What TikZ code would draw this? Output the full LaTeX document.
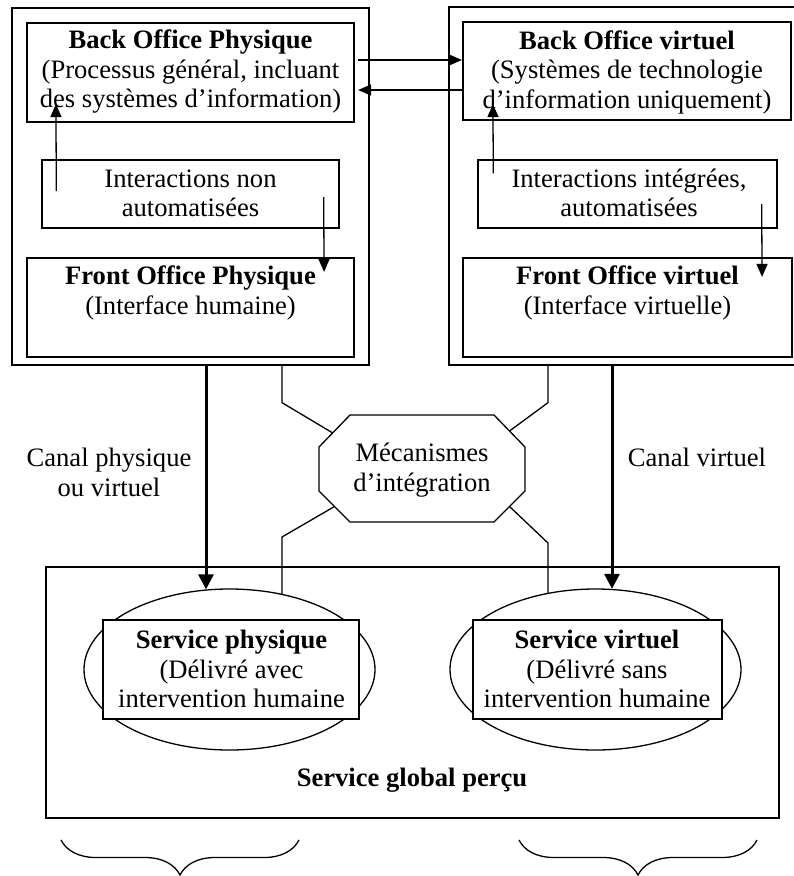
\documentclass[tikz,border=0pt]{standalone}
\usepackage{fontspec}
\setmainfont{Liberation Serif}
\usetikzlibrary{arrows.meta,calc,shapes.geometric,decorations.pathreplacing}
\tikzset{
  txt/.style={font=\fontsize{26.6pt}{29.5pt}\selectfont, align=center, inner sep=0pt},
  outerbox/.style={draw, line width=1.3pt, inner sep=0pt},
  thickbox/.style={draw, line width=2.2pt, inner sep=0pt},
  thinbox/.style={draw, line width=1.3pt, inner sep=0pt},
  servbox/.style={draw, fill=white, line width=1.6pt, inner sep=0pt},
  ell/.style={draw, ellipse, line width=1.3pt, inner sep=0pt, minimum width=291pt, minimum height=161pt},
  arr/.style={line width=1.3pt, -{Triangle[length=13pt,width=11pt]}},
  bigarr/.style={line width=3pt, -{Triangle[length=15pt,width=15pt]}},
  conn/.style={line width=1.3pt},
  brc/.style={line width=1.3pt, decorate, decoration={brace, amplitude=35pt, mirror, aspect=0.5}}
}
\begin{document}
\begin{tikzpicture}[x=1pt,y=-1pt]
\useasboundingbox (0,0) rectangle (794,876);
\clip (0,0) rectangle (794,876);
% outer containers
\node[outerbox, minimum width=357pt, minimum height=357pt] (lo) at (190.5,186.5) {};
\node[outerbox, minimum width=356pt, minimum height=358pt] (ro) at (627,186) {};
% left column
\node[thickbox, minimum width=327pt, minimum height=99pt] (bop) at (190.5,72.5) {};
\node[txt] (bopt) at (190.5,72) {\textbf{Back Office Physique}\\(Processus général, incluant\\des systèmes d’information)};
\node[thinbox, minimum width=297pt, minimum height=68pt] (inl) at (190.5,194) {};
\node[txt] (inlt) at (190.5,193.5) {Interactions non\\automatisées};
\node[thickbox, minimum width=327pt, minimum height=99pt] (fop) at (190.5,307.5) {};
\node[txt] (fopt) at (190.5,293) {\textbf{Front Office Physique}\\(Interface humaine)};
% right column
\node[thickbox, minimum width=328pt, minimum height=98pt] (bov) at (627,71) {};
\node[txt] (bovt) at (627,72) {\textbf{Back Office virtuel}\\(Systèmes de technologie\\d’information uniquement)};
\node[thinbox, minimum width=299pt, minimum height=68pt] (inv) at (627.5,194) {};
\node[txt] (invt) at (629,193) {Interactions intégrées,\\automatisées};
\node[thickbox, minimum width=329pt, minimum height=99pt] (fov) at (627.5,307.5) {};
\node[txt] (fovt) at (627.5,293) {\textbf{Front Office virtuel}\\(Interface virtuelle)};
% arrows between back offices
\draw[arr] ($(bop.east)+(3,-12.5)$) -- ($(bov.west)+(0,-11)$);
\draw[arr] ($(bov.west)+(0,19)$) -- ($(bop.east)+(3,17.5)$);
% inner arrows
\draw[arr] ($(inl.west)+(15,-3)$) -- ($(bop.south west)+(30,-19)$);
\draw[arr] ($(inl.east)+(-16,3)$) -- ($(fop.north east)+(-31,15)$);
\draw[arr] ($(inv.north west)+(16,14)$) -- ($(bov.south west)+(31,-17)$);
\draw[arr] ($(inv.east)+(-16,10)$) -- ($(fov.north east)+(-31,20)$);
% octagon
\coordinate (o1) at (350,415);
\coordinate (o2) at (494,415);
\coordinate (o3) at (525,447);
\coordinate (o4) at (525,491);
\coordinate (o5) at (494,522);
\coordinate (o6) at (350,522);
\coordinate (o7) at (319,491);
\coordinate (o8) at (319,447);
\draw[line width=1.3pt] (o1) -- (o2) -- (o3) -- (o4) -- (o5) -- (o6) -- (o7) -- (o8) -- cycle;
\node[txt] (oct) at (422,470) {Mécanismes\\d’intégration};
% service area
\node[outerbox, line width=1.5pt, minimum width=733pt, minimum height=251pt] (sg) at (412.5,692.5) {};
\node[ell] (esp) at (229.5,669.5) {};
\node[ell] (esv) at (595.5,669.5) {};
\node[servbox, minimum width=256pt, minimum height=99pt] (sp) at (231,669.5) {};
\node[txt] (spt) at (231.5,669) {\textbf{Service physique}\\(Délivré avec\\intervention humaine};
\node[servbox, minimum width=249pt, minimum height=99pt] (sv) at (597.5,669.5) {};
\node[txt] (svt) at (597,669) {\textbf{Service virtuel}\\(Délivré sans\\intervention humaine};
\node[txt] (sgt) at (412,780) {\textbf{Service global perçu}};
% connectors to octagon
\coordinate (ul) at ($(o8)!0.44!(o1)$);
\coordinate (ur) at ($(o2)!0.5!(o3)$);
\coordinate (ll) at ($(o7)!0.5!(o6)$);
\coordinate (lr) at ($(o4)!0.5!(o5)$);
\coordinate (lle) at (282,594.5);
\coordinate (lre) at (548,593.5);
\draw[conn] ($(lo.south)+(91.5,0)$) -- ++(0,37) -- (ul);
\draw[conn] ($(ro.south)+(-79,0)$) -- ++(0,37) -- (ur);
\draw[conn] (ll) -- (282,537) -- (lle);
\draw[conn] (lr) -- (548,543) -- (lre);
% channels
\draw[bigarr] ($(lo.south)+(15.5,0)$) -- ($(esp.north)+(-23.5,1)$);
\draw[bigarr] ($(ro.south)+(-15,0)$) -- ($(esv.north)+(16.5,0.5)$);
\node[txt] (cp) at (109,472.5) {Canal physique\\ou virtuel};
\node[txt] (cv) at (697,457) {Canal virtuel};
% braces
\draw[brc] (61,840) -- (299,840);
\draw[brc] (519,840) -- (757,840);
\end{tikzpicture}
\end{document}
